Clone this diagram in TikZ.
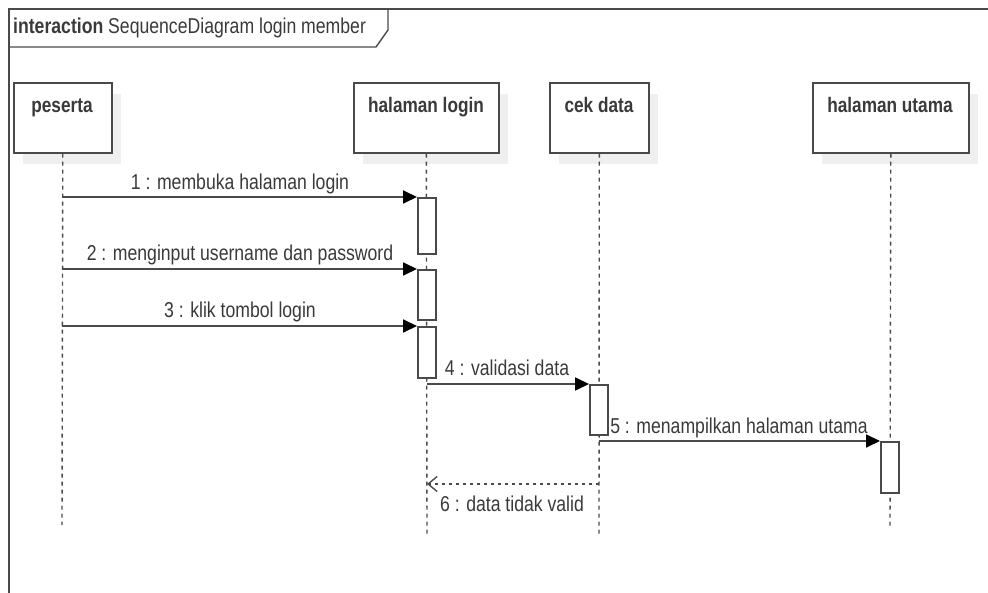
\documentclass[tikz,border=0pt]{standalone}
\usepackage{fontspec}
\setmainfont[FakeStretch=0.82]{Liberation Sans}
\usetikzlibrary{arrows.meta}
\definecolor{ln}{HTML}{4A4A4A}
\definecolor{tx}{HTML}{3A3A3A}
\definecolor{shd}{HTML}{EFEFEF}
\tikzset{
  head/.style={draw=ln, line width=1.6pt, fill=white, minimum width=#1, minimum height=70pt, inner sep=0pt, anchor=north west},
  headtxt/.style={font=\bfseries\fontsize{21}{24}\selectfont, text=tx, anchor=base},
  life/.style={draw=ln, line width=1.4pt, dash pattern=on 4pt off 4pt},
  act/.style={draw=ln, line width=1.6pt, fill=white, minimum width=18pt, minimum height=#1, inner sep=0pt, anchor=north west},
  msg/.style={draw=ln, line width=1.8pt, -{Triangle[length=14pt,width=13pt,color=black]}},
  ret/.style={draw=ln, line width=1.6pt, dash pattern=on 3pt off 4pt, -{Straight Barb[length=9pt,width=15pt,line width=1.4pt]}},
  lbl/.style={font=\fontsize{21.5}{24}\selectfont, text=tx, anchor=base, inner sep=0pt},
}
\begin{document}
\begin{tikzpicture}[x=1pt,y=-1pt]
\useasboundingbox (0,0) rectangle (988,593);
\fill[white] (0,0) rectangle (988,593);
% frame
\draw[ln, line width=1.6pt] (9,593) -- (9,9) -- (988,9);
\draw[ln, line width=1.4pt] (9,47) -- (376,47) -- (388,30) -- (388,9);
\node[font=\fontsize{21.5}{24}\selectfont, text=tx, anchor=base west, inner sep=0pt] (title) at (13,34) {\textbf{interaction} SequenceDiagram login member};
% shadows
\foreach \x/\w in {13/98, 353/145, 549/99, 812/156}
  \fill[shd] (\x+10,82+12) rectangle ++(\w,70);
% heads
\node[head=98pt] (peserta) at (13,82) {};
\node[head=145pt] (login) at (353,82) {};
\node[head=99pt] (cek) at (549,82) {};
\node[head=156pt] (utama) at (812,82) {};
\node[headtxt] (tpeserta) at (62,113) {peserta};
\node[headtxt] (tlogin) at (426,113) {halaman login};
\node[headtxt] (tcek) at (599,113) {cek data};
\node[headtxt] (tutama) at (890,113) {halaman utama};
% lifeline ends
\coordinate (epeserta) at (62,525);
\coordinate (elogin) at (427,537);
\coordinate (ecek) at (599,537);
\coordinate (eutama) at (890,527);
\draw[life] (peserta.south) -- (epeserta);
\draw[life] (login.south) -- (elogin);
\draw[life] (cek.south) -- (ecek);
\draw[life] (utama.south) -- (eutama);
% activations
\node[act=56pt] (a1) at (417,197) {};
\node[act=50pt] (a2) at (417,269) {};
\node[act=51pt] (a3) at (417,326) {};
\node[act=50pt] (a4) at (589,384) {};
\node[act=51pt] (a5) at (880,441) {};
% message start points
\coordinate (s1) at (62,197);
\coordinate (s2) at (62,269);
\coordinate (s3) at (62,326);
\coordinate (s4) at (427,384);
\coordinate (s5) at (599,441);
\coordinate (s6) at (599,484);
\coordinate (e6) at (427,484);
\draw[msg] (s1) -- (a1.north west);
\draw[msg] (s2) -- (a2.north west);
\draw[msg] (s3) -- (a3.north west);
\draw[msg] (s4) -- (a4.north west);
\draw[msg] (s5) -- (a5.north west);
\draw[ret] (s6) -- (e6);
% labels
\node[lbl] (l1) at (240,190) {1 : membuka halaman login};
\node[lbl] (l2) at (240,261) {2 : menginput username dan password};
\node[lbl] (l3) at (240,318) {3 : klik tombol login};
\node[lbl] (l4) at (507,376) {4 : validasi data};
\node[lbl] (l5) at (739,433) {5 : menampilkan halaman utama};
\node[lbl] (l6) at (512,511) {6 : data tidak valid};
\end{tikzpicture}
\end{document}
